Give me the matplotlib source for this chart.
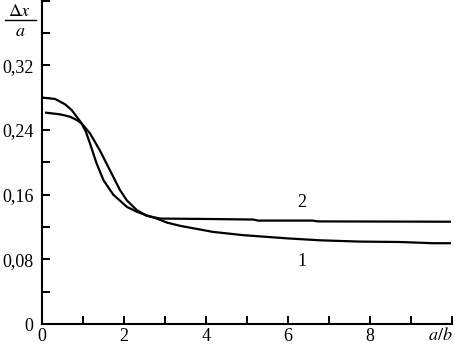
import numpy as np
import matplotlib
matplotlib.use('Agg')
import matplotlib.pyplot as plt
from matplotlib.ticker import MultipleLocator, FuncFormatter

plt.rcParams['font.family'] = ['Liberation Serif', 'DejaVu Serif']
plt.rcParams['mathtext.fontset'] = 'stix'

# curve 1 (starts higher, ends lower)
x1 = [0.05, 0.32, 0.56, 0.72, 0.885, 0.97, 1.07, 1.17, 1.33, 1.50, 1.74, 2.07, 2.31, 2.55,
      2.8, 3.05, 3.37, 3.85, 4.17, 4.9, 5.98, 6.78, 7.76, 8.73, 9.54, 9.95]
y1 = [0.280, 0.2785, 0.272, 0.265, 0.254, 0.248, 0.238, 0.2236, 0.199, 0.178, 0.160, 0.145,
      0.139, 0.1345, 0.1305, 0.1255, 0.1215, 0.117, 0.114, 0.110, 0.106, 0.1036, 0.102,
      0.1015, 0.100, 0.100]

# curve 2 (starts lower, ends higher)
x2 = [0.1, 0.44, 0.68, 0.85, 0.97, 1.17, 1.41, 1.66, 1.90, 2.07, 2.31, 2.55, 2.88,
      4.0, 5.15, 5.27, 6.6, 6.73, 9.95]
y2 = [0.2615, 0.2595, 0.2566, 0.2525, 0.248, 0.236, 0.215, 0.190, 0.166, 0.153,
      0.141, 0.134, 0.1305, 0.130, 0.1293, 0.128, 0.128, 0.127, 0.1266]

fig = plt.figure(figsize=(4.55, 3.44), dpi=100)
ax = fig.add_axes([0.0923, 0.0581, 0.9010, 0.9419])

ax.plot(x1, y1, color='black', lw=1.6)
ax.plot(x2, y2, color='black', lw=1.6)

ax.set_xlim(0, 10)
ax.set_ylim(0, 0.401)
ax.spines['top'].set_visible(False)
ax.spines['right'].set_visible(False)
for s in ('left', 'bottom'):
    ax.spines[s].set_linewidth(1.5)

ax.xaxis.set_minor_locator(MultipleLocator(1))
ax.yaxis.set_minor_locator(MultipleLocator(0.04))
ax.set_xticks([0, 2, 4, 6, 8])
ax.set_yticks([0, 0.08, 0.16, 0.24, 0.32])


def yfmt(v, pos):
    if abs(v) < 1e-9:
        return '0'
    return ('%.2f' % v).replace('.', ',')


ax.yaxis.set_major_formatter(FuncFormatter(yfmt))
ax.tick_params(which='both', direction='in', length=6, width=1.4, labelsize=13)
ax.tick_params(axis='y', pad=6)
ax.tick_params(axis='x', pad=3)

ax.text(6.34, 0.151, '2', fontsize=13, ha='center', va='center')
ax.text(6.34, 0.077, '1', fontsize=13, ha='center', va='center')

fig.text(440 / 455, 1 - 336 / 344, r'$a/b$', fontsize=13, ha='center', va='center')
fig.text(20 / 455, 1 - 11 / 344, r'$\Delta x$', fontsize=13, ha='center', va='center')
fig.text(20 / 455, 1 - 31 / 344, r'$a$', fontsize=13, ha='center', va='center')
fig.add_artist(plt.Line2D([5 / 455, 36 / 455], [1 - 20 / 344, 1 - 20 / 344],
                          color='black', lw=1.0))

fig.savefig('out.png', dpi=100)
